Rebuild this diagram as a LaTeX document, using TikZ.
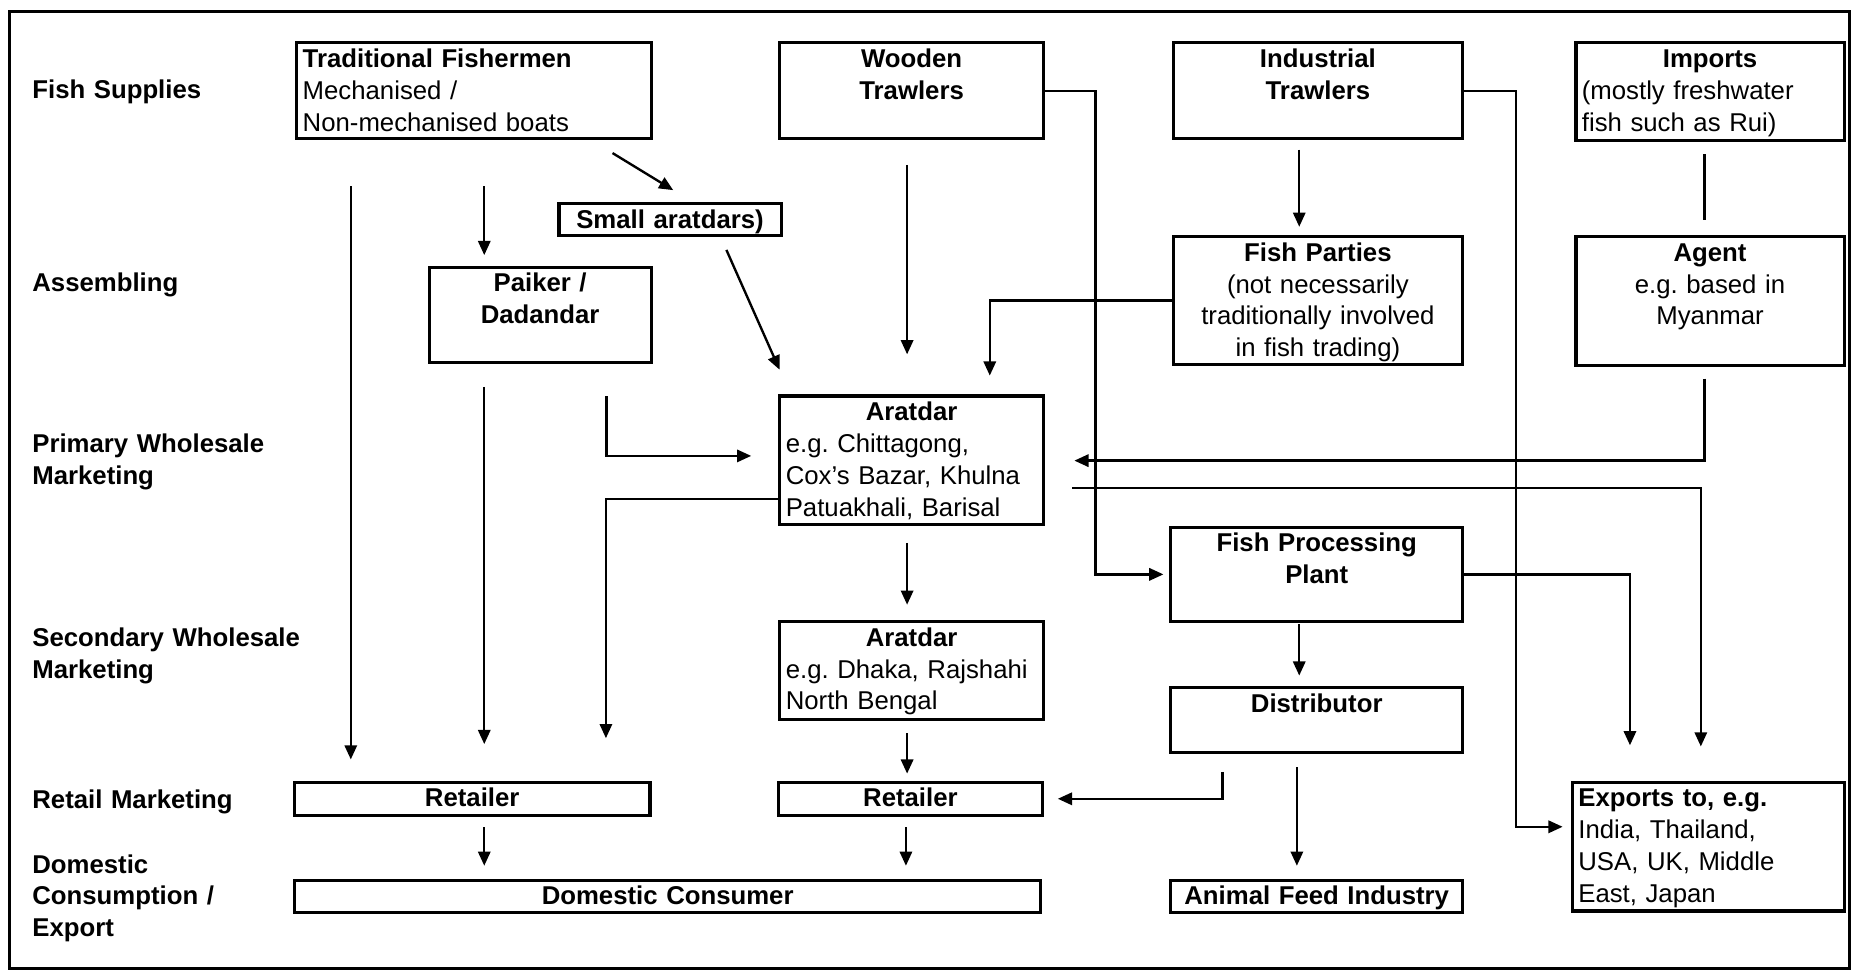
\documentclass[tikz,border=0pt]{standalone}
\usepackage{fontspec}
\setmainfont{Liberation Sans}
\usetikzlibrary{arrows.meta}
\frenchspacing

\begin{document}
\begin{tikzpicture}[
    x=0.5pt, y=-0.5pt,
    font=\fontsize{10.9}{13.5}\selectfont,
    box/.style 2 args={%
      draw,
      rectangle,
      line width=1.3pt,
      anchor=north west,
      inner xsep=2.5pt,
      inner ysep=0pt,
      align=center,
      text width=#1*0.5pt-5pt,
      text height=10.4pt,
      text depth=#2*0.5pt-10.4pt,
    },
    lbl/.style={%
      anchor=north west,
      inner sep=0pt,
      text width=130pt,
      align=left,
      text height=10.4pt,
      font=\fontsize{10.9}{13.5}\selectfont\bfseries,
    },
    arr/.style={line width=1pt, -{Triangle[length=6pt,width=5.2pt]}},
  ]
    \useasboundingbox (0,0) rectangle (1568,822);
    \draw [line width=1.2pt] (8,10) rectangle (1566,820);

    % stage labels
    \node [lbl] (lsup) at (27,62) {Fish Supplies};
    \node [lbl] (lasm) at (27,226) {Assembling};
    \node [lbl] (lpwm) at (27,362) {Primary Wholesale\\Marketing};
    \node [lbl] (lswm) at (27,526) {Secondary Wholesale\\Marketing};
    \node [lbl] (lrtm) at (27,663) {Retail Marketing};
    \node [lbl] (ldce) at (27,718) {Domestic\\Consumption /\\Export};

    % boxes
    \node [box={300}{81}, align=left] (trad) at (250,35) {\textbf{Traditional Fishermen}\\Mechanised /\\Non-mechanised boats};
    \node [box={223}{81}] (wood) at (659,35) {\bfseries Wooden\\Trawlers};
    \node [box={245}{81}] (indus) at (992,35) {\bfseries Industrial\\Trawlers};
    \node [box={227}{83}, align=left] (imp) at (1333,35) {\makebox[\linewidth]{\bfseries Imports}\\(mostly freshwater\\fish such as Rui)};
    \node [box={188}{27}] (small) at (472,171) {\bfseries Small aratdars)};
    \node [box={188}{81}] (paiker) at (362,225) {\bfseries Paiker /\\Dadandar};
    \node [box={245}{108}] (parties) at (992,199) {\textbf{Fish Parties}\\(not necessarily\\traditionally involved\\in fish trading)};
    \node [box={227}{109}] (agent) at (1333,199) {\textbf{Agent}\\e.g. based in\\Myanmar};
    \node [box={223}{109}, align=left] (ara1) at (659,334) {\makebox[\linewidth]{\bfseries Aratdar}\\e.g. Chittagong,\\Cox's Bazar, Khulna\\Patuakhali, Barisal};
    \node [box={247}{80}] (fpp) at (990,445) {\bfseries Fish Processing\\Plant};
    \node [box={223}{83}, align=left] (ara2) at (659,525) {\makebox[\linewidth]{\bfseries Aratdar}\\e.g. Dhaka, Rajshahi\\North Bengal};
    \node [box={247}{55}] (dist) at (990,581) {\bfseries Distributor};
    \node [box={301}{28}] (ret1) at (248,661) {\bfseries Retailer};
    \node [box={223}{28}] (ret2) at (658,661) {\bfseries Retailer};
    \node [box={230}{109}, align=left] (exp) at (1330,661) {\textbf{Exports to, e.g.}\\India, Thailand,\\USA, UK, Middle\\East, Japan};
    \node [box={632}{27}] (cons) at (248,744) {\bfseries Domestic Consumer};
    \node [box={247}{27}] (feed) at (990,744) {\bfseries Animal Feed Industry};

    % flows
    \draw [arr] ([shift={(47,39)}]trad.south west) -- ([shift={(49,-18)}]ret1.north west);
    \draw [arr] ([shift={(160,39)}]trad.south west) -- ([shift={(48,-9)}]paiker.north west);
    \draw [arr] ([shift={(-34,11)}]trad.south east) -- ([shift={(98,-10)}]small.north west);
    \draw [arr] ([shift={(48,19)}]paiker.south west) -- ([shift={(162,-31)}]ret1.north west);
    \draw [arr] ([shift={(-39,27)}]paiker.south east) |- ([shift={(-23,52)}]ara1.north west);
    \draw [arr] ([shift={(0,-23)}]ara1.south west) -| ([shift={(265,-36)}]ret1.north west);
    \draw [arr] ([shift={(143,11)}]small.south west) -- ([shift={(1,-21)}]ara1.north west);
    \draw [arr] ([shift={(109,21)}]wood.south west) -- ([shift={(109,-34)}]ara1.north west);
    \draw [arr] (wood.east) -- ++(43,0) |- ([shift={(-5,0)}]fpp.west);
    \draw [arr] ([shift={(108,8)}]indus.south west) -- ([shift={(108,-7)}]parties.north west);
    \draw [arr] (parties.west) -| ([shift={(179,-16)}]ara1.north west);
    \draw [arr] (indus.east) -- ++(44,0) |- ([shift={(-7,39)}]exp.north west);
    \draw [line width=1pt] ([shift={(110,10)}]imp.south west) -- ([shift={(110,-13)}]agent.north west);
    \draw [arr] ([shift={(110,10)}]agent.south west) |- ([shift={(25,56)}]ara1.north east);
    \draw [arr] ([shift={(23,79)}]ara1.north east) -| ([shift={(110,-29)}]exp.north west);
    \draw [arr] ([shift={(109,14)}]ara1.south west) -- ([shift={(109,-13)}]ara2.north west);
    \draw [arr] (fpp.east) -| ([shift={(50,-30)}]exp.north west);
    \draw [arr] ([shift={(110,1)}]fpp.south west) -- ([shift={(110,-9)}]dist.north west);
    \draw [arr] ([shift={(109,10)}]ara2.south west) -- ([shift={(110,-6)}]ret2.north west);
    \draw [arr] ([shift={(45,15)}]dist.south west) |- ([shift={(12,0)}]ret2.east);
    \draw [arr] ([shift={(108,11)}]dist.south west) -- ([shift={(108,-11)}]feed.north west);
    \draw [arr] ([shift={(162,9)}]ret1.south west) -- ([shift={(162,-11)}]cons.north west);
    \draw [arr] ([shift={(109,9)}]ret2.south west) -- ([shift={(519,-11)}]cons.north west);
\end{tikzpicture}
\end{document}
